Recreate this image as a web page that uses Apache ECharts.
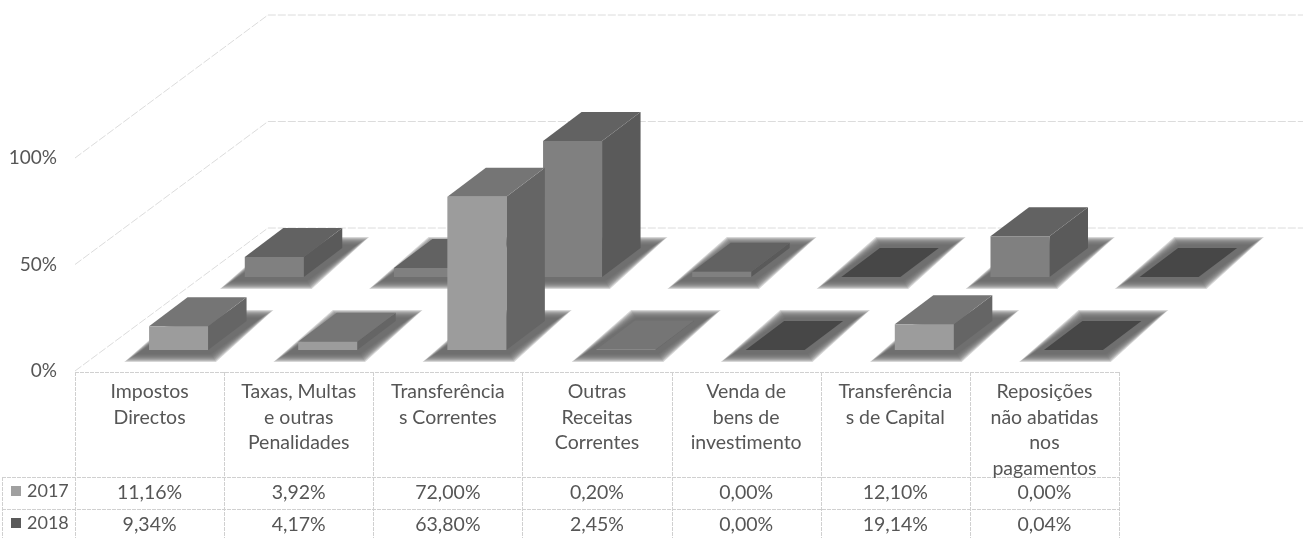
<!DOCTYPE html>
<html><head><meta charset="utf-8">
<style>html,body{margin:0;padding:0;background:#fff}#c{width:1306px;height:538px}</style>
<script src="https://cdn.jsdelivr.net/npm/echarts@6/dist/echarts.min.js"></script>
</head><body><div id="c"></div>
<script>
var categories = ['Impostos\nDirectos','Taxas, Multas\ne outras\nPenalidades','Transferência\ns Correntes','Outras\nReceitas\nCorrentes','Venda de\nbens de\ninvestimento','Transferência\ns de Capital','Reposições\nnão abatidas\nnos\npagamentos'];
var values2017 = [11.16,3.92,72.00,0.20,0.00,12.10,0.00];
var values2018 = [9.34,4.17,63.80,2.45,0.00,19.14,0.04];
var yTicks = [0,50,100];

var FONT = 'Lato, "Open Sans", sans-serif', TXT = '#565656';
var GRID = {left:75, right:187, top:158, bottom:167};
var WALL = {dx:193, dy:143, end:1303};
var BAR = {w:59, dx:38.5, dy:29};
var GLOW = [8,7,6,5,4,3,2,1,0];

function fmt(v){ return v.toFixed(2).replace('.',',') + '%'; }

function barSeries(name, vals, row){
  return {
    name:name, type:'custom', coordinateSystem:'cartesian2d',
    itemStyle:{color:row.legend}, clip:false, z:row.z,
    data: vals.map(function(v,i){ return [i,v]; }),
    encode:{x:0,y:1},
    renderItem:function(params,api){
      var i=api.value(0), v=api.value(1);
      var base=api.coord([i,0]), top=api.coord([i,v]);
      var x=base[0]+row.ox-BAR.w/2, x2=x+BAR.w;
      var yb=base[1]-row.oy, yt=top[1]-row.oy;
      var dx=BAR.dx, dy=BAR.dy;
      var topCol = v<0.1 ? '#474747' : row.top;
      var kids=GLOW.map(function(e){
        return {type:'polygon',shape:{points:[
          [x-12-e*1.6,yb+4+e],[x2+3+e*0.6,yb+4+e],[x2+dx+14+e*1.6,yb-dy-3-e],[x+dx+1-e*0.6,yb-dy-3-e]]},
          style:{fill:'rgba(105,105,105,0.27)'}};
      });
      kids.push(
        {type:'polygon',shape:{points:[[x2,yt],[x2+dx,yt-dy],[x2+dx,yb-dy],[x2,yb]]},style:{fill:row.side}},
        {type:'polygon',shape:{points:[[x,yt],[x2,yt],[x2+dx,yt-dy],[x+dx,yt-dy]]},style:{fill:topCol}},
        {type:'rect',shape:{x:x,y:yt,width:BAR.w,height:yb-yt},style:{fill:row.face}},
        {type:'text',style:{text:fmt(v),x:base[0],y:row.tableY,align:'center',verticalAlign:'middle',
          font:'19.5px '+FONT,fill:TXT}}
      );
      return {type:'group',children:kids};
    }
  };
}

var wallSeries = {
  type:'custom', coordinateSystem:'cartesian2d', z:1, clip:false, silent:true,
  data: yTicks.map(function(t){ return [0,t]; }), encode:{x:0,y:1},
  renderItem:function(params,api){
    var cs=params.coordSys, y=api.coord([0,api.value(1)])[1];
    return {type:'polyline',shape:{points:[[cs.x,y],[cs.x+WALL.dx,y-WALL.dy],[WALL.end,y-WALL.dy]]},
      style:{fill:null,stroke:'#dcdcdc',lineWidth:1,lineDash:[8,2]}};
  }
};

var tableLines=[];
function ln(x1,y1,x2,y2){ tableLines.push({type:'line',silent:true,z:0,shape:{x1:x1,y1:y1,x2:x2,y2:y2},style:{stroke:'#d0d0d0',lineWidth:1,lineDash:[4,1]}}); }
for(var k=0;k<=7;k++){ var lx=Math.round(75+k*149.14)+0.5; ln(lx,372,lx,538); }
ln(75,372.5,1119,372.5); ln(2,477.5,1119,477.5); ln(2,509.5,1119,509.5); ln(2.5,477,2.5,538);

var chart=echarts.init(document.getElementById('c'),null,{renderer:'canvas'});
chart.setOption({
  animation:false, backgroundColor:'#fff',
  grid:GRID,
  legend:{data:['2017','2018'],orient:'vertical',left:11,top:482,selectedMode:false,icon:'rect',itemWidth:10,itemHeight:10,itemGap:14,
    textStyle:{fontFamily:FONT,fontSize:18,color:TXT,padding:[0,0,0,1]},padding:0},
  xAxis:{type:'category',data:categories,axisLine:{show:false},axisTick:{show:false},splitLine:{show:false},
    axisLabel:{interval:0,margin:8,fontFamily:FONT,fontSize:19.5,lineHeight:25.5,color:TXT,align:'center',verticalAlign:'top'}},
  yAxis:{type:'value',min:0,max:100,interval:50,axisLine:{show:false},axisTick:{show:false},splitLine:{show:false},
    axisLabel:{formatter:'{value}%',margin:18,fontFamily:FONT,fontSize:19,color:TXT}},
  graphic:{elements:tableLines},
  series:[
    wallSeries,
    barSeries('2018',values2018,{legend:'#5a5a5a',face:'#808080',top:'#626262',side:'#5a5a5a',ox:124.7,oy:94,tableY:525,z:2}),
    barSeries('2017',values2017,{legend:'#a0a0a0',face:'#9c9c9c',top:'#757575',side:'#656565',ox:29,oy:21,tableY:493,z:3})
  ]
});
</script></body></html>
